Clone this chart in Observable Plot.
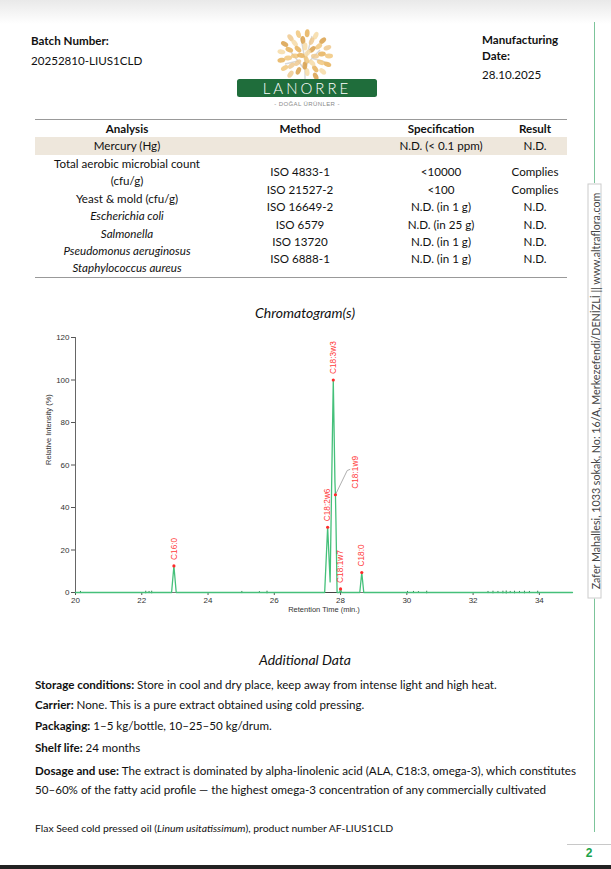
<!DOCTYPE html>
<html><head><meta charset="utf-8">
<script src="https://cdn.jsdelivr.net/npm/d3@7"></script>
<script src="https://cdn.jsdelivr.net/npm/@observablehq/plot@0.6"></script>
<style>
body{margin:0;background:#fff;}
#page{position:relative;width:611px;height:869px;overflow:hidden;background:#fff;font-family:Lato,"Open Sans",sans-serif;color:#111;}
.t{position:absolute;white-space:nowrap;}
</style></head><body><div id="page"></div>
<script>
// ---------- document data ----------
const batchLabel = "Batch Number:";
const batchNumber = "20252810-LIUS1CLD";
const mfgLabel = ["Manufacturing", "Date:"];
const mfgDate = "28.10.2025";
const tableHeaders = ["Analysis", "Method", "Specification", "Result"];
const mercuryRow = ["Mercury (Hg)", "", "N.D. (< 0.1 ppm)", "N.D."];
const analysisLines = ["Total aerobic microbial count", "(cfu/g)", "Yeast & mold (cfu/g)", "Escherichia coli", "Salmonella", "Pseudomonus aeruginosus", "Staphylococcus aureus"];
const analysisItalic = [false, false, false, true, true, true, true];
const methods = ["ISO 4833-1", "ISO 21527-2", "ISO 16649-2", "ISO 6579", "ISO 13720", "ISO 6888-1"];
const specs = ["<10000", "<100", "N.D. (in 1 g)", "N.D. (in 25 g)", "N.D. (in 1 g)", "N.D. (in 1 g)"];
const results = ["Complies", "Complies", "N.D.", "N.D.", "N.D.", "N.D."];
const chartTitle = "Chromatogram(s)";
const additionalTitle = "Additional Data";
const paragraphs = [
  ["Storage conditions:", " Store in cool and dry place, keep away from intense light and high heat."],
  ["Carrier:", " None. This is a pure extract obtained using cold pressing."],
  ["Packaging:", " 1–5 kg/bottle, 10–25–50 kg/drum."],
  ["Shelf life:", " 24 months"],
  ["Dosage and use:", " The extract is dominated by alpha-linolenic acid (ALA, C18:3, omega-3), which constitutes"]
];
const paragraphCont = "50–60% of the fatty acid profile — the highest omega-3 concentration of any commercially cultivated";
const footerNote = ["Flax Seed cold pressed oil (", "Linum usitatissimum", "), product number AF-LIUS1CLD"];
const sideText = "Zafer Mahallesi, 1033 sokak, No: 16/A, Merkezefendi/DENİZLİ || www.altraflora.com";
const pageNumber = "2";

// ---------- chromatogram data ----------
const xTicks = [20, 22, 24, 26, 28, 30, 32, 34];
const yTicks = [0, 20, 40, 60, 80, 100, 120];
const traceTime = [20, 22.9, 22.97, 23.04, 27.52, 27.61, 27.685, 27.78, 27.83, 27.845, 27.86, 27.895, 27.97, 28.0, 28.03, 28.58, 28.64, 28.7, 35];
const traceIntensity = [0, 0, 12.5, 0, 0, 30.7, 5, 100, 52, 46, 34, 0, 0, 1.7, 0, 0, 9.4, 0, 0];
const peakNames = ["C16:0", "C18:2w6", "C18:3w3", "C18:1w9", "C18:1w7", "C18:0"];
const peakTimes = [22.97, 27.61, 27.78, 27.845, 28.0, 28.64];
const peakHeights = [12.5, 30.7, 100, 46, 1.7, 9.4];
const labelTimes = [22.97, 27.61, 27.78, 28.45, 28.0, 28.64];
const labelHeights = [12.5, 30.7, 100, 46, 1.7, 9.4];
const leaderTime = [27.845, 28.2, 28.28];
const leaderIntensity = [46, 57.4, 57.9];
const integrationBase = [27.52, 28.02];
const noiseTimes = [20.15, 22.12, 22.22, 22.3, 25.02, 25.55, 25.78, 30.02, 30.2, 30.35, 30.6, 32.45, 32.6, 32.75, 32.9, 33.0, 33.12, 33.25, 33.4, 33.55, 33.7, 33.95];
const noiseHeights = [0.5, 0.6, 0.5, 0.6, 0.5, 0.4, 0.6, 0.5, 0.5, 0.4, 0.6, 0.5, 0.6, 0.5, 0.6, 0.7, 0.5, 0.6, 0.5, 0.6, 0.5, 0.6];
const yLabel = "Relative Intensity (%)";
const xLabel = "Retention Time (min.)";

// ---------- helpers ----------
const page = document.getElementById("page");
function el(tag, css, html) {
  const e = document.createElement(tag);
  e.style.cssText = css;
  if (html != null) e.innerHTML = html;
  page.appendChild(e);
  return e;
}
function esc(s) { return s.replace(/&/g, "&amp;").replace(/</g, "&lt;").replace(/>/g, "&gt;"); }
function txt(x, y, html, o = {}) {
  const size = o.size || 11.6, lh = size * 1.3;
  const css = `position:absolute;white-space:nowrap;left:${x}px;top:${y - lh / 2}px;line-height:${lh}px;font-size:${size}px;` +
    `font-weight:${o.weight || 400};font-style:${o.italic ? "italic" : "normal"};color:${o.color || "#111"};` +
    (o.center ? "transform:translateX(-50%);" : "") + (o.family ? `font-family:${o.family};` : "") + (o.extra || "");
  return el("div", css, html);
}

// top shadow and bottom bar
el("div", "position:absolute;left:0;top:0;width:611px;height:24px;background:linear-gradient(#e9e9e9,#ffffff);");
el("div", "position:absolute;left:0;top:865px;width:611px;height:4px;background:#222;");

// header
txt(31, 41, esc(batchLabel), {weight: 700});
txt(31, 61, esc(batchNumber));
txt(482, 40, esc(mfgLabel[0]), {weight: 700});
txt(482, 56, esc(mfgLabel[1]), {weight: 700});
txt(482, 75, esc(mfgDate));

// logo
(function () {
  const ns = "http://www.w3.org/2000/svg";
  const svg = document.createElementNS(ns, "svg");
  svg.setAttribute("width", 611); svg.setAttribute("height", 120);
  svg.style.cssText = "position:absolute;left:0;top:0;";
  let s = "";
  const cx = 305, cy = 56;
  const golds = ["#f1c77c", "#e6b15a", "#f6dba6", "#d9a04a", "#efc98f"];
  s += `<path d="M${cx} 80 L${cx} 60 M${cx} 70 L${cx - 14} 52 M${cx} 66 L${cx + 15} 50 M${cx - 7} 61 L${cx - 20} 64 M${cx + 6} 58 L${cx + 20} 62 M${cx} 60 L${cx - 4} 38 M${cx} 62 L${cx + 7} 36" stroke="#d8d8d8" stroke-width="1.4" fill="none"/>`;
  const rings = [[24, 17], [17, 12], [10, 8], [4, 3]];
  let k = 0;
  rings.forEach(([r, n], ri) => {
    for (let i = 0; i < n; i++) {
      const a = (i / n) * Math.PI * 2 + ri * 0.4;
      const x = cx + r * Math.cos(a), y = cy + r * Math.sin(a) * 0.95;
      if (y > 77) continue;
      const deg = a * 180 / Math.PI + 90;
      s += `<ellipse cx="${x.toFixed(1)}" cy="${y.toFixed(1)}" rx="2.4" ry="4" fill="${golds[k++ % golds.length]}" opacity="0.85" transform="rotate(${deg.toFixed(0)} ${x.toFixed(1)} ${y.toFixed(1)})"/>`;
    }
  });
  s += `<rect x="237" y="79" width="140" height="18" rx="2.5" fill="#1f6d3b"/>`;
  s += `<text x="307" y="93.5" text-anchor="middle" fill="#fff" font-family="Lato,'DejaVu Sans',sans-serif" font-size="15" font-weight="300" letter-spacing="3">LANORRE</text>`;
  s += `<text x="307" y="106" text-anchor="middle" fill="#888" font-family="'Liberation Sans',sans-serif" font-size="6" letter-spacing="0.4">- DOĞAL ÜRÜNLER -</text>`;
  svg.innerHTML = s;
  page.appendChild(svg);
})();

// table
const colX = [127, 300, 441, 535];
el("div", "position:absolute;left:35px;top:119px;width:532px;height:1px;background:#999;");
tableHeaders.forEach((h, i) => txt(colX[i], 129, esc(h), {weight: 700, center: true}));
el("div", "position:absolute;left:35px;top:137px;width:532px;height:18px;background:#eee7dc;");
mercuryRow.forEach((h, i) => { if (h) txt(colX[i], 146, esc(h), {center: true}); });
analysisLines.forEach((h, i) => txt(colX[0], 163.5 + i * 17.4, esc(h), {center: true, italic: analysisItalic[i]}));
methods.forEach((h, i) => txt(colX[1], 172 + i * 17.4, esc(h), {center: true}));
specs.forEach((h, i) => txt(colX[2], 172 + i * 17.4, esc(h), {center: true}));
results.forEach((h, i) => txt(colX[3], 172 + i * 17.4, esc(h), {center: true}));
el("div", "position:absolute;left:35px;top:277px;width:532px;height:1px;background:#999;");

// chart title
txt(305, 313, esc(chartTitle), {size: 14, italic: true, center: true});

// chromatogram
const trace = traceTime.map((t, i) => ({t, v: traceIntensity[i]}));
const peaks = peakNames.map((name, i) => ({name, t: peakTimes[i], v: peakHeights[i], lt: labelTimes[i], lv: labelHeights[i]}));
const leader = leaderTime.map((t, i) => ({t, v: leaderIntensity[i]}));
const noise = noiseTimes.map((t, i) => ({t, v: noiseHeights[i]}));
const chart = Plot.plot({
  width: 570, height: 295,
  marginLeft: 55, marginRight: 18, marginTop: 12, marginBottom: 28,
  x: {domain: [20, 35]},
  y: {domain: [0, 120]},
  style: {fontFamily: "'Liberation Sans',Arial,sans-serif", fontSize: "8px", color: "#333", background: "transparent"},
  marks: [
    Plot.axisY({ticks: yTicks, tickSize: 4, tickPadding: 2, label: null, stroke: "#555"}),
    Plot.axisX({ticks: xTicks, tickSize: 3, tickPadding: 2, label: null, stroke: "#555"}),
    Plot.ruleX([20], {y1: 0, y2: 120, stroke: "#666"}),
    Plot.ruleY([0], {stroke: "#777"}),
    Plot.ruleY([0], {x1: integrationBase[0], x2: integrationBase[1], stroke: "#444"}),
    Plot.ruleX(noise, {x: "t", y1: d => -d.v, y2: "v", stroke: "#2f7d4a", strokeWidth: 1}),
    Plot.line(trace, {x: "t", y: "v", stroke: "#45c07a", strokeWidth: 1.3}),
    Plot.line(leader, {x: "t", y: "v", stroke: "#999", strokeWidth: 0.8}),
    Plot.dot(peaks, {x: "t", y: "v", r: 1.6, fill: "#ff2a2a"}),
    Plot.text(peaks, {x: "lt", y: "lv", text: "name", rotate: -90, textAnchor: "start", dy: -6, fill: "#ff3c3c", fontSize: 8.3}),
    Plot.text([yLabel], {text: d => d, frameAnchor: "left", dx: -27, rotate: -90, fontSize: 7.5, fill: "#333"}),
    Plot.text([xLabel], {text: d => d, frameAnchor: "bottom", dy: 19, fontSize: 7.5, fill: "#333"})
  ]
});
chart.style.position = "absolute";
chart.style.left = "20px";
chart.style.top = "325px";
page.appendChild(chart);

// additional data
txt(305, 660, esc(additionalTitle), {size: 14, italic: true, center: true});
const pY = [685, 705, 726, 748, 771];
paragraphs.forEach(([b, r], i) => txt(35, pY[i], `<b>${esc(b)}</b>${esc(r)}`));
txt(35, 790, esc(paragraphCont));
txt(35, 829, `${esc(footerNote[0])}<i>${esc(footerNote[1])}</i>${esc(footerNote[2])}`, {size: 10.4});

// right side decoration
el("div", "position:absolute;left:594px;top:22px;width:1px;height:161px;background:#7cc49a;");
el("div", "position:absolute;left:594px;top:598px;width:1px;height:234px;background:#7cc49a;");
el("div", `position:absolute;left:${594 - 207.5}px;top:${390.5 - 7}px;width:415px;height:14px;line-height:14px;font-size:10.7px;color:#444;text-align:center;white-space:nowrap;transform:rotate(-90deg);transform-origin:center;border:1px solid #ccc;box-sizing:border-box;background:#fff;`, esc(sideText));
el("div", "position:absolute;left:567px;top:844px;width:44px;height:1px;background:#c8c8c8;");
txt(589, 854, pageNumber, {size: 12, weight: 700, color: "#1aa34a", center: true, family: "'Liberation Sans',Arial,sans-serif"});
</script></body></html>
